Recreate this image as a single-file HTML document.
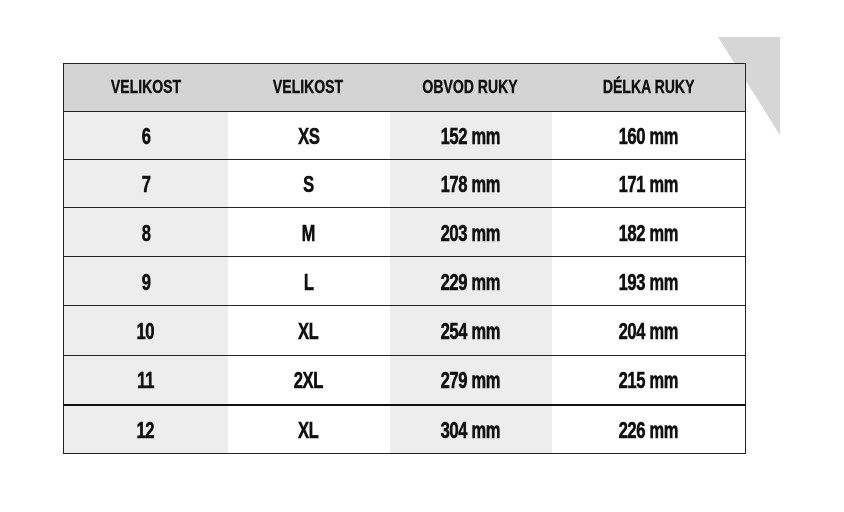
<!DOCTYPE html>
<html><head><style>
body{margin:0;width:844px;height:512px;background:#fff;position:relative;overflow:hidden;font-family:"Liberation Sans Narrow","Liberation Sans",sans-serif;font-weight:bold;}
.tri{position:absolute;left:0;top:0}
table{position:absolute;left:63px;top:63px;border-collapse:collapse;border:1px solid #222;}
td{padding:0;text-align:center;border-top:1px solid #222;color:#111;}
td span{display:inline-block;transform:scaleX(.72);font-size:23px;letter-spacing:-0.5px;-webkit-text-stroke:0.6px #111;position:relative;top:1px}
tr.h td{background:#d4d4d4;height:47px;border-top:none}
tr.h td span{font-size:18px;transform:scaleX(.78);letter-spacing:0;-webkit-text-stroke:0.4px #111;top:0}
td.a,td.c{background:#eeeded}
tr.last td{border-top:2px solid #111}
</style></head><body>
<svg class="tri" width="844" height="512"><polygon points="718,37 780,37 780,135" fill="#d6d6d6"/></svg>
<table>
<colgroup><col style="width:164px"><col style="width:162px"><col style="width:162px"><col style="width:194px"></colgroup>
<tr class="h"><td><span>VELIKOST</span></td><td><span>VELIKOST</span></td><td><span>OBVOD RUKY</span></td><td><span>DÉLKA RUKY</span></td></tr>
<tr style="height:48px"><td class="a"><span>6</span></td><td><span>XS</span></td><td class="c"><span>152 mm</span></td><td><span>160 mm</span></td></tr>
<tr style="height:48px"><td class="a"><span>7</span></td><td><span>S</span></td><td class="c"><span>178 mm</span></td><td><span>171 mm</span></td></tr>
<tr style="height:49px"><td class="a"><span>8</span></td><td><span>M</span></td><td class="c"><span>203 mm</span></td><td><span>182 mm</span></td></tr>
<tr style="height:49px"><td class="a"><span>9</span></td><td><span>L</span></td><td class="c"><span>229 mm</span></td><td><span>193 mm</span></td></tr>
<tr style="height:50px"><td class="a"><span>10</span></td><td><span>XL</span></td><td class="c"><span>254 mm</span></td><td><span>204 mm</span></td></tr>
<tr style="height:49px"><td class="a"><span>11</span></td><td><span>2XL</span></td><td class="c"><span>279 mm</span></td><td><span>215 mm</span></td></tr>
<tr class="last" style="height:49px"><td class="a"><span>12</span></td><td><span>XL</span></td><td class="c"><span>304 mm</span></td><td><span>226 mm</span></td></tr>
</table>
</body></html>
